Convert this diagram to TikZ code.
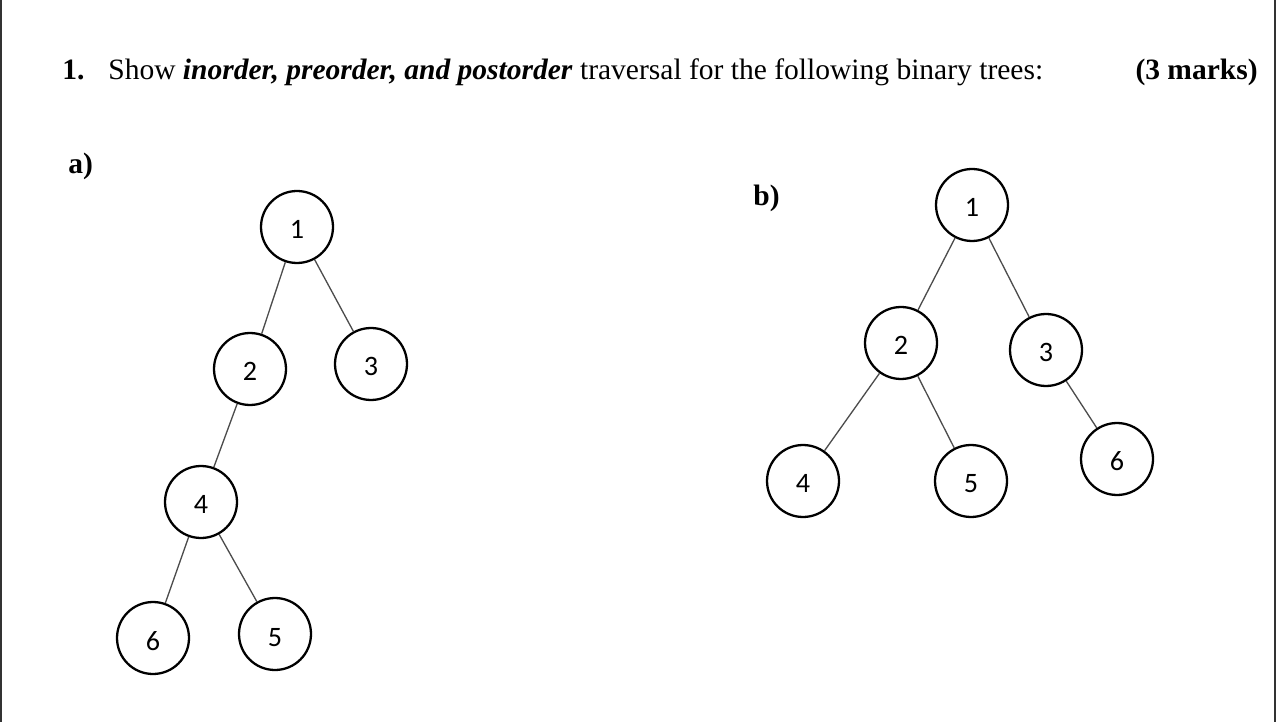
\documentclass[tikz,border=0pt]{standalone}
\usepackage{fontspec}
\setmainfont{Liberation Serif}
\newfontfamily\digitfont{Carlito}
\usetikzlibrary{positioning}

\begin{document}
\begin{tikzpicture}[
    x=0.02cm, y=-0.02cm,
    every node/.style={inner sep=0pt},
    heading/.style={anchor=base west, font=\fontsize{16.8}{20}\selectfont},
    vertex/.style={circle, draw=black, line width=1.3pt, minimum size=1.44cm, text height=0.48cm, text depth=0pt, font=\digitfont\fontsize{16}{18}\selectfont},
    edge/.style={draw=black!70, line width=0.75pt},
    frame/.style={draw=black!80, line width=1pt},
]
\useasboundingbox (0,0) rectangle (1280,722);

% page frame
\draw[frame] (1,0) -- (1,722);
\draw[frame] (1275,0) -- (1275,722);

% Question
\node[heading] (num) at (62,80) {\textbf{1.}};
\node[heading] (question) at (108,80) {Show \textbf{\textit{inorder, preorder, and postorder}} traversal for the following binary trees:};
\node[heading, anchor=base east] (marks) at (1258,80) {\textbf{(3 marks)}};

% Part labels
\node[heading] (parta) at (68,174) {\textbf{a)}};
\node[heading] (partb) at (753,206) {\textbf{b)}};

% Tree a
\node[vertex] (a1) at (297,227) {1};
\node[vertex] (a2) at (250,369) {2};
\node[vertex] (a3) at (371,364) {3};
\node[vertex] (a4) at (201,502) {4};
\node[vertex] (a6) at (153,638) {6};
\node[vertex] (a5) at (275,634) {5};

\draw[edge] (a1) -- (a2);
\draw[edge] (a1) -- (a3);
\draw[edge] (a2) -- (a4);
\draw[edge] (a4) -- (a6);
\draw[edge] (a4) -- (a5);

% Tree b
\node[vertex] (b1) at (972,205) {1};
\node[vertex] (b2) at (901,343) {2};
\node[vertex] (b3) at (1046,350) {3};
\node[vertex] (b4) at (803,481) {4};
\node[vertex] (b5) at (971,481) {5};
\node[vertex] (b6) at (1117,459) {6};

\draw[edge] (b1) -- (b2);
\draw[edge] (b1) -- (b3);
\draw[edge] (b2) -- (b4);
\draw[edge] (b2) -- (b5);
\draw[edge] (b3) -- (b6);

\end{tikzpicture}
\end{document}
